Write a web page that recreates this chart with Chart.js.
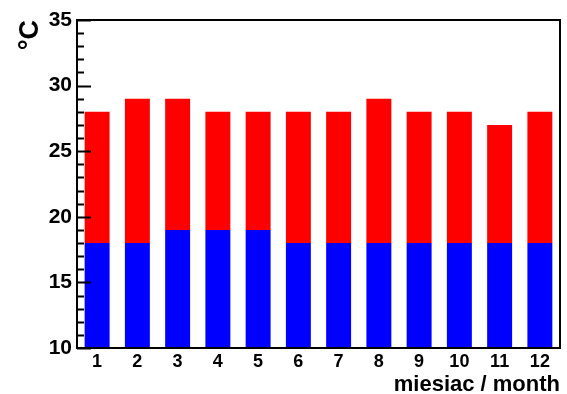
<!DOCTYPE html>
<html>
<head>
<meta charset="utf-8">
<script src="https://cdn.jsdelivr.net/npm/chart.js@4.4.1/dist/chart.umd.min.js"></script>
<style>
  html, body { margin: 0; padding: 0; background: #fff; }
  #box { width: 567px; height: 394px; }
</style>
</head>
<body>
<div id="box"><canvas id="temps"></canvas></div>
<script>
// months and monthly temperatures
var months = ["1", "2", "3", "4", "5", "6", "7", "8", "9", "10", "11", "12"];
var tempMin = [18, 18, 19, 19, 19, 18, 18, 18, 18, 18, 18, 18];
var tempMax = [28, 29, 29, 28, 28, 28, 28, 29, 28, 28, 27, 28];
var axisFloor = 10;
var yTicks = [10, 15, 20, 25, 30, 35];

//build floating bars: blue from the floor to min, red from min to max
var lowBars = [];
var highBars = [];
for (var i in months) {
	lowBars.push([axisFloor, tempMin[i]]);
	highBars.push([tempMin[i], tempMax[i]]);
}

var font = "'Liberation Sans', Arial, sans-serif";

//frame, inside ticks and axis titles in the ROOT style
var rootFrame = {
	id: "rootFrame",
	afterDraw: function(chart) {
		var ctx = chart.ctx;
		var a = chart.chartArea;
		var y = chart.scales.y;
		ctx.save();
		ctx.strokeStyle = "#000";
		ctx.lineWidth = 2;
		ctx.strokeRect(a.left, a.top, a.right - a.left, a.bottom - a.top);
		ctx.beginPath();
		for (var v = y.min; v <= y.max; v++) {
			var py = Math.round(y.getPixelForValue(v)) + 0.5;
			var len = (v % 5 === 0) ? 14 : 7;
			ctx.moveTo(a.left, py);
			ctx.lineTo(a.left + len, py);
		}
		ctx.lineWidth = 2;
		ctx.stroke();

		ctx.fillStyle = "#000";
		ctx.font = "bold 22px " + font;
		ctx.textAlign = "right";
		ctx.textBaseline = "alphabetic";
		ctx.fillText("miesiac / month", a.right, 391);

		ctx.translate(38, a.top);
		ctx.rotate(-Math.PI / 2);
		ctx.font = "bold 27px " + font;
		ctx.textAlign = "right";
		ctx.fillText("\u00b0C", 0, 0);
		ctx.restore();
	}
};

var ctx = document.getElementById("temps");

var tempChart = new Chart(ctx, {
	type: "bar",
	data: {
		labels: months,
		datasets: [
			{
				label: "min",
				data: lowBars,
				backgroundColor: "#0000ff",
				borderWidth: 0,
				grouped: false,
				barPercentage: 0.62,
				categoryPercentage: 1.0
			},
			{
				label: "max",
				data: highBars,
				backgroundColor: "#ff0000",
				borderWidth: 0,
				grouped: false,
				barPercentage: 0.62,
				categoryPercentage: 1.0
			}
		]
	},
	options: {
		responsive: true,
		maintainAspectRatio: false,
		animation: false,
		layout: { padding: { left: 0, top: 20, right: 7, bottom: 0 } },
		plugins: {
			legend: { display: false },
			tooltip: { enabled: false }
		},
		scales: {
			x: {
				grid: { display: false, drawTicks: false },
				border: { display: false },
				ticks: {
					color: "#000",
					padding: 3,
					font: { family: font, size: 18, weight: "bold" }
				},
				afterFit: function(scale) { scale.height = 46; }
			},
			y: {
				min: axisFloor,
				max: 35,
				afterBuildTicks: function(scale) {
					scale.ticks = yTicks.map(function(v) { return { value: v }; });
				},
				grid: { display: false, drawTicks: false },
				border: { display: false },
				ticks: {
					color: "#000",
					padding: 5,
					font: { family: font, size: 21, weight: "bold" }
				},
				afterFit: function(scale) { scale.width = 77; }
			}
		}
	},
	plugins: [rootFrame]
});
</script>
</body>
</html>
